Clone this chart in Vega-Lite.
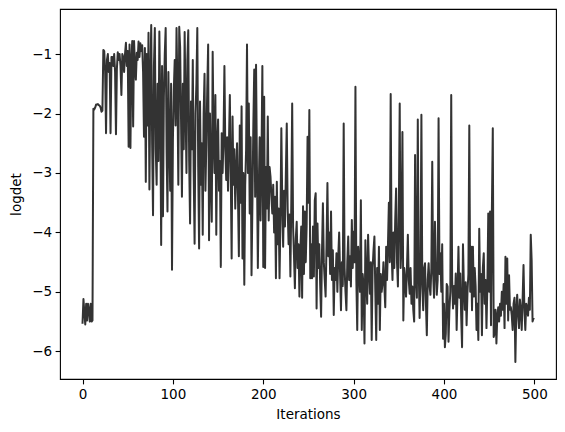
{
  "$schema": "https://vega.github.io/schema/vega-lite/v6.json",
  "width": 496,
  "height": 370,
  "autosize": {"type": "none"},
  "padding": {"left": 60, "top": 9, "right": 9, "bottom": 53},
  "background": "white",
  "config": {
    "view": {"stroke": "black", "strokeWidth": 1.1},
    "font": "DejaVu Sans",
    "axis": {
      "grid": false,
      "domain": false,
      "tickColor": "black",
      "tickWidth": 1.1,
      "tickSize": 4.9,
      "labelColor": "black",
      "labelFont": "DejaVu Sans",
      "labelFontSize": 13.5,
      "labelPadding": 3.5,
      "titleColor": "black",
      "titleFont": "DejaVu Sans",
      "titleFontSize": 13.5,
      "titleFontWeight": "normal"
    }
  },
  "data": {"values": [
{"x":0,"y":-5.52},{"x":1,"y":-5.12},{"x":2,"y":-5.35},{"x":3,"y":-5.55},{"x":4,"y":-5.2},{"x":5,"y":-5.48},{"x":6,"y":-5.2},{"x":7,"y":-5.3},{"x":8,"y":-5.5},{"x":9,"y":-5.2},
{"x":10,"y":-5.5},{"x":11,"y":-5.48},{"x":12,"y":-1.92},{"x":13,"y":-1.93},{"x":14,"y":-1.9},{"x":15,"y":-1.85},{"x":16,"y":-1.85},{"x":17,"y":-1.84},{"x":18,"y":-1.86},{"x":19,"y":-1.87},
{"x":20,"y":-1.9},{"x":21,"y":-1.97},{"x":22,"y":-1.95},{"x":23,"y":-0.93},{"x":24,"y":-0.95},{"x":25,"y":-1.3},{"x":26,"y":-2.33},{"x":27,"y":-1.1},{"x":28,"y":-1.0},{"x":29,"y":-1.3},
{"x":30,"y":-1.15},{"x":31,"y":-2.33},{"x":32,"y":-1.05},{"x":33,"y":-1.05},{"x":34,"y":-1.2},{"x":35,"y":-1.0},{"x":36,"y":-1.3},{"x":37,"y":-2.35},{"x":38,"y":-1.25},{"x":39,"y":-0.97},
{"x":40,"y":-1.1},{"x":41,"y":-1.0},{"x":42,"y":-1.2},{"x":43,"y":-1.69},{"x":44,"y":-1.0},{"x":45,"y":-1.05},{"x":46,"y":-1.3},{"x":47,"y":-1.0},{"x":48,"y":-0.81},{"x":49,"y":-1.2},
{"x":50,"y":-0.95},{"x":51,"y":-2.56},{"x":52,"y":-0.84},{"x":53,"y":-2.58},{"x":54,"y":-1.1},{"x":55,"y":-0.78},{"x":56,"y":-2.22},{"x":57,"y":-0.78},{"x":58,"y":-1.2},{"x":59,"y":-1.43},
{"x":60,"y":-0.98},{"x":61,"y":-1.1},{"x":62,"y":-0.79},{"x":63,"y":-1.05},{"x":64,"y":-0.82},{"x":65,"y":-0.95},{"x":66,"y":-0.85},{"x":67,"y":-1.3},{"x":68,"y":-2.39},{"x":69,"y":-0.9},
{"x":70,"y":-3.15},{"x":71,"y":-1.0},{"x":72,"y":-2.2},{"x":73,"y":-0.64},{"x":74,"y":-3.28},{"x":75,"y":-1.5},{"x":76,"y":-0.51},{"x":77,"y":-2.5},{"x":78,"y":-3.71},{"x":79,"y":-1.2},
{"x":80,"y":-0.56},{"x":81,"y":-2.6},{"x":82,"y":-3.2},{"x":83,"y":-1.5},{"x":84,"y":-2.8},{"x":85,"y":-0.62},{"x":86,"y":-1.8},{"x":87,"y":-4.21},{"x":88,"y":-1.2},{"x":89,"y":-3.73},
{"x":90,"y":-1.72},{"x":91,"y":-1.0},{"x":92,"y":-0.56},{"x":93,"y":-2.6},{"x":94,"y":-3.65},{"x":95,"y":-1.3},{"x":96,"y":-2.44},{"x":97,"y":-3.3},{"x":98,"y":-1.5},{"x":99,"y":-4.63},
{"x":100,"y":-2.44},{"x":101,"y":-1.6},{"x":102,"y":-1.1},{"x":103,"y":-2.2},{"x":104,"y":-0.56},{"x":105,"y":-1.6},{"x":106,"y":-3.2},{"x":107,"y":-0.54},{"x":108,"y":-0.88},{"x":109,"y":-2.1},
{"x":110,"y":-3.4},{"x":111,"y":-1.5},{"x":112,"y":-2.6},{"x":113,"y":-0.63},{"x":114,"y":-1.9},{"x":115,"y":-3.0},{"x":116,"y":-1.1},{"x":117,"y":-0.6},{"x":118,"y":-2.8},{"x":119,"y":-3.85},
{"x":120,"y":-1.8},{"x":121,"y":-2.6},{"x":122,"y":-1.1},{"x":123,"y":-3.0},{"x":124,"y":-4.19},{"x":125,"y":-2.0},{"x":126,"y":-1.5},{"x":127,"y":-0.56},{"x":128,"y":-2.9},{"x":129,"y":-4.27},
{"x":130,"y":-1.8},{"x":131,"y":-3.2},{"x":132,"y":-2.5},{"x":133,"y":-4.04},{"x":134,"y":-2.0},{"x":135,"y":-1.33},{"x":136,"y":-3.3},{"x":137,"y":-2.5},{"x":138,"y":-1.6},{"x":139,"y":-0.84},
{"x":140,"y":-4.13},{"x":141,"y":-2.0},{"x":142,"y":-3.1},{"x":143,"y":-3.82},{"x":144,"y":-0.96},{"x":145,"y":-2.4},{"x":146,"y":-3.0},{"x":147,"y":-1.69},{"x":148,"y":-4.04},{"x":149,"y":-2.5},
{"x":150,"y":-2.1},{"x":151,"y":-3.3},{"x":152,"y":-2.8},{"x":153,"y":-4.58},{"x":154,"y":-2.33},{"x":155,"y":-3.0},{"x":156,"y":-2.4},{"x":157,"y":-1.2},{"x":158,"y":-2.6},{"x":159,"y":-3.12},
{"x":160,"y":-2.4},{"x":161,"y":-3.3},{"x":162,"y":-2.5},{"x":163,"y":-1.69},{"x":164,"y":-3.0},{"x":165,"y":-4.44},{"x":166,"y":-2.05},{"x":167,"y":-3.2},{"x":168,"y":-2.6},{"x":169,"y":-3.6},
{"x":170,"y":-3.0},{"x":171,"y":-2.5},{"x":172,"y":-3.4},{"x":173,"y":-4.4},{"x":174,"y":-2.2},{"x":175,"y":-3.5},{"x":176,"y":-1.88},{"x":177,"y":-4.44},{"x":178,"y":-3.0},{"x":179,"y":-4.88},
{"x":180,"y":-3.2},{"x":181,"y":-2.6},{"x":182,"y":-0.84},{"x":183,"y":-3.0},{"x":184,"y":-1.83},{"x":185,"y":-3.68},{"x":186,"y":-2.4},{"x":187,"y":-4.72},{"x":188,"y":-3.5},{"x":189,"y":-2.2},
{"x":190,"y":-1.26},{"x":191,"y":-3.4},{"x":192,"y":-1.18},{"x":193,"y":-2.9},{"x":194,"y":-4.6},{"x":195,"y":-3.3},{"x":196,"y":-2.4},{"x":197,"y":-3.8},{"x":198,"y":-2.8},{"x":199,"y":-1.2},
{"x":200,"y":-4.58},{"x":201,"y":-1.72},{"x":202,"y":-4.6},{"x":203,"y":-2.9},{"x":204,"y":-3.6},{"x":205,"y":-2.05},{"x":206,"y":-3.8},{"x":207,"y":-2.9},{"x":208,"y":-3.06},{"x":209,"y":-3.4},
{"x":210,"y":-3.68},{"x":211,"y":-3.2},{"x":212,"y":-4.0},{"x":213,"y":-3.4},{"x":214,"y":-4.77},{"x":215,"y":-3.15},{"x":216,"y":-4.2},{"x":217,"y":-3.6},{"x":218,"y":-4.77},{"x":219,"y":-3.8},
{"x":220,"y":-2.25},{"x":221,"y":-3.5},{"x":222,"y":-4.24},{"x":223,"y":-3.3},{"x":224,"y":-3.9},{"x":225,"y":-3.0},{"x":226,"y":-2.17},{"x":227,"y":-3.6},{"x":228,"y":-4.2},{"x":229,"y":-3.7},
{"x":230,"y":-4.74},{"x":231,"y":-3.5},{"x":232,"y":-1.83},{"x":233,"y":-3.9},{"x":234,"y":-4.4},{"x":235,"y":-4.94},{"x":236,"y":-4.1},{"x":237,"y":-3.82},{"x":238,"y":-4.6},{"x":239,"y":-4.2},
{"x":240,"y":-5.08},{"x":241,"y":-4.3},{"x":242,"y":-3.9},{"x":243,"y":-5.1},{"x":244,"y":-3.56},{"x":245,"y":-4.7},{"x":246,"y":-3.65},{"x":247,"y":-4.5},{"x":248,"y":-3.9},{"x":249,"y":-2.39},
{"x":250,"y":-3.5},{"x":251,"y":-1.94},{"x":252,"y":-4.77},{"x":253,"y":-4.2},{"x":254,"y":-4.77},{"x":255,"y":-3.9},{"x":256,"y":-4.74},{"x":257,"y":-3.46},{"x":258,"y":-3.34},{"x":259,"y":-5.28},
{"x":260,"y":-3.85},{"x":261,"y":-4.6},{"x":262,"y":-4.2},{"x":263,"y":-4.9},{"x":264,"y":-5.42},{"x":265,"y":-4.3},{"x":266,"y":-3.51},{"x":267,"y":-4.5},{"x":268,"y":-4.8},{"x":269,"y":-5.08},
{"x":270,"y":-4.2},{"x":271,"y":-3.17},{"x":272,"y":-4.4},{"x":273,"y":-4.0},{"x":274,"y":-4.7},{"x":275,"y":-3.65},{"x":276,"y":-4.8},{"x":277,"y":-4.3},{"x":278,"y":-5.39},{"x":279,"y":-4.6},
{"x":280,"y":-4.8},{"x":281,"y":-4.35},{"x":282,"y":-5.0},{"x":283,"y":-4.4},{"x":284,"y":-4.0},{"x":285,"y":-4.7},{"x":286,"y":-5.31},{"x":287,"y":-4.5},{"x":288,"y":-4.9},{"x":289,"y":-2.17},
{"x":290,"y":-4.6},{"x":291,"y":-5.0},{"x":292,"y":-5.31},{"x":293,"y":-4.5},{"x":294,"y":-4.07},{"x":295,"y":-4.8},{"x":296,"y":-4.4},{"x":297,"y":-4.91},{"x":298,"y":-3.79},{"x":299,"y":-4.6},
{"x":300,"y":-3.99},{"x":301,"y":-4.5},{"x":302,"y":-1.55},{"x":303,"y":-4.8},{"x":304,"y":-5.64},{"x":305,"y":-4.24},{"x":306,"y":-4.6},{"x":307,"y":-5.0},{"x":308,"y":-3.46},{"x":309,"y":-5.64},
{"x":310,"y":-4.7},{"x":311,"y":-4.9},{"x":312,"y":-5.87},{"x":313,"y":-4.13},{"x":314,"y":-4.8},{"x":315,"y":-5.2},{"x":316,"y":-4.04},{"x":317,"y":-4.6},{"x":318,"y":-5.03},{"x":319,"y":-4.5},
{"x":320,"y":-5.81},{"x":321,"y":-4.6},{"x":322,"y":-4.3},{"x":323,"y":-4.07},{"x":324,"y":-5.0},{"x":325,"y":-5.81},{"x":326,"y":-4.6},{"x":327,"y":-5.2},{"x":328,"y":-4.24},{"x":329,"y":-5.64},
{"x":330,"y":-4.7},{"x":331,"y":-5.0},{"x":332,"y":-4.85},{"x":333,"y":-4.5},{"x":334,"y":-4.9},{"x":335,"y":-5.26},{"x":336,"y":-4.24},{"x":337,"y":-4.8},{"x":338,"y":-4.2},{"x":339,"y":-3.5},
{"x":340,"y":-4.5},{"x":341,"y":-1.67},{"x":342,"y":-4.3},{"x":343,"y":-4.8},{"x":344,"y":-4.0},{"x":345,"y":-4.6},{"x":346,"y":-3.8},{"x":347,"y":-3.26},{"x":348,"y":-4.5},{"x":349,"y":-4.91},
{"x":350,"y":-3.65},{"x":351,"y":-1.83},{"x":352,"y":-4.6},{"x":353,"y":-4.2},{"x":354,"y":-2.31},{"x":355,"y":-5.48},{"x":356,"y":-4.6},{"x":357,"y":-4.8},{"x":358,"y":-5.08},{"x":359,"y":-4.6},
{"x":360,"y":-4.04},{"x":361,"y":-4.8},{"x":362,"y":-5.03},{"x":363,"y":-4.6},{"x":364,"y":-5.2},{"x":365,"y":-4.91},{"x":366,"y":-5.3},{"x":367,"y":-5.5},{"x":368,"y":-2.7},{"x":369,"y":-4.8},
{"x":370,"y":-5.1},{"x":371,"y":-2.1},{"x":372,"y":-4.6},{"x":373,"y":-5.44},{"x":374,"y":-4.7},{"x":375,"y":-2.02},{"x":376,"y":-4.9},{"x":377,"y":-5.31},{"x":378,"y":-4.6},{"x":379,"y":-4.52},
{"x":380,"y":-5.2},{"x":381,"y":-5.73},{"x":382,"y":-4.8},{"x":383,"y":-4.52},{"x":384,"y":-4.9},{"x":385,"y":-5.05},{"x":386,"y":-4.6},{"x":387,"y":-2.81},{"x":388,"y":-4.7},{"x":389,"y":-5.1},
{"x":390,"y":-3.82},{"x":391,"y":-4.6},{"x":392,"y":-5.05},{"x":393,"y":-4.8},{"x":394,"y":-2.08},{"x":395,"y":-4.7},{"x":396,"y":-4.35},{"x":397,"y":-5.0},{"x":398,"y":-4.2},{"x":399,"y":-5.79},
{"x":400,"y":-5.2},{"x":401,"y":-5.93},{"x":402,"y":-5.7},{"x":403,"y":-4.87},{"x":404,"y":-4.91},{"x":405,"y":-5.84},{"x":406,"y":-5.3},{"x":407,"y":-5.0},{"x":408,"y":-1.69},{"x":409,"y":-4.8},
{"x":410,"y":-5.28},{"x":411,"y":-4.9},{"x":412,"y":-5.2},{"x":413,"y":-4.69},{"x":414,"y":-5.64},{"x":415,"y":-5.0},{"x":416,"y":-4.24},{"x":417,"y":-5.1},{"x":418,"y":-4.69},{"x":419,"y":-5.4},
{"x":420,"y":-5.93},{"x":421,"y":-4.2},{"x":422,"y":-4.9},{"x":423,"y":-5.3},{"x":424,"y":-4.84},{"x":425,"y":-5.56},{"x":426,"y":-5.0},{"x":427,"y":-4.7},{"x":428,"y":-2.2},{"x":429,"y":-5.0},
{"x":430,"y":-4.24},{"x":431,"y":-5.31},{"x":432,"y":-4.24},{"x":433,"y":-5.08},{"x":434,"y":-4.6},{"x":435,"y":-4.91},{"x":436,"y":-5.64},{"x":437,"y":-5.2},{"x":438,"y":-5.81},{"x":439,"y":-3.94},
{"x":440,"y":-5.0},{"x":441,"y":-4.7},{"x":442,"y":-5.73},{"x":443,"y":-4.6},{"x":444,"y":-4.35},{"x":445,"y":-5.2},{"x":446,"y":-4.8},{"x":447,"y":-5.61},{"x":448,"y":-4.9},{"x":449,"y":-3.68},
{"x":450,"y":-5.0},{"x":451,"y":-3.65},{"x":452,"y":-5.56},{"x":453,"y":-3.62},{"x":454,"y":-2.25},{"x":455,"y":-5.76},{"x":456,"y":-5.7},{"x":457,"y":-5.3},{"x":458,"y":-5.87},{"x":459,"y":-5.4},
{"x":460,"y":-5.26},{"x":461,"y":-5.5},{"x":462,"y":-5.2},{"x":463,"y":-5.4},{"x":464,"y":-5.0},{"x":465,"y":-5.3},{"x":466,"y":-4.87},{"x":467,"y":-5.61},{"x":468,"y":-4.41},{"x":469,"y":-5.2},
{"x":470,"y":-4.44},{"x":471,"y":-5.48},{"x":472,"y":-4.72},{"x":473,"y":-5.3},{"x":474,"y":-5.26},{"x":475,"y":-5.4},{"x":476,"y":-5.64},{"x":477,"y":-5.2},{"x":478,"y":-5.1},{"x":479,"y":-6.18},
{"x":480,"y":-5.3},{"x":481,"y":-5.05},{"x":482,"y":-5.4},{"x":483,"y":-5.61},{"x":484,"y":-5.13},{"x":485,"y":-5.3},{"x":486,"y":-5.64},{"x":487,"y":-5.13},{"x":488,"y":-4.55},{"x":489,"y":-5.3},
{"x":490,"y":-5.64},{"x":491,"y":-5.2},{"x":492,"y":-5.26},{"x":493,"y":-5.4},{"x":494,"y":-5.1},{"x":495,"y":-5.3},{"x":496,"y":-4.04},{"x":497,"y":-4.47},{"x":498,"y":-5.5},{"x":499,"y":-5.45}
  ]},
  "mark": {"type": "line", "color": "#333333", "strokeWidth": 2, "strokeJoin": "round", "strokeCap": "square", "clip": true},
  "encoding": {
    "x": {
      "field": "x", "type": "quantitative",
      "scale": {"domain": [-24.95, 523.95], "nice": false, "zero": false},
      "axis": {"values": [0, 100, 200, 300, 400, 500], "title": "Iterations", "format": "d", "titlePadding": 7}
    },
    "y": {
      "field": "y", "type": "quantitative",
      "scale": {"domain": [-6.466, -0.242], "nice": false, "zero": false},
      "axis": {"values": [-6, -5, -4, -3, -2, -1], "title": "logdet", "format": "d", "titlePadding": 8}
    }
  }
}
